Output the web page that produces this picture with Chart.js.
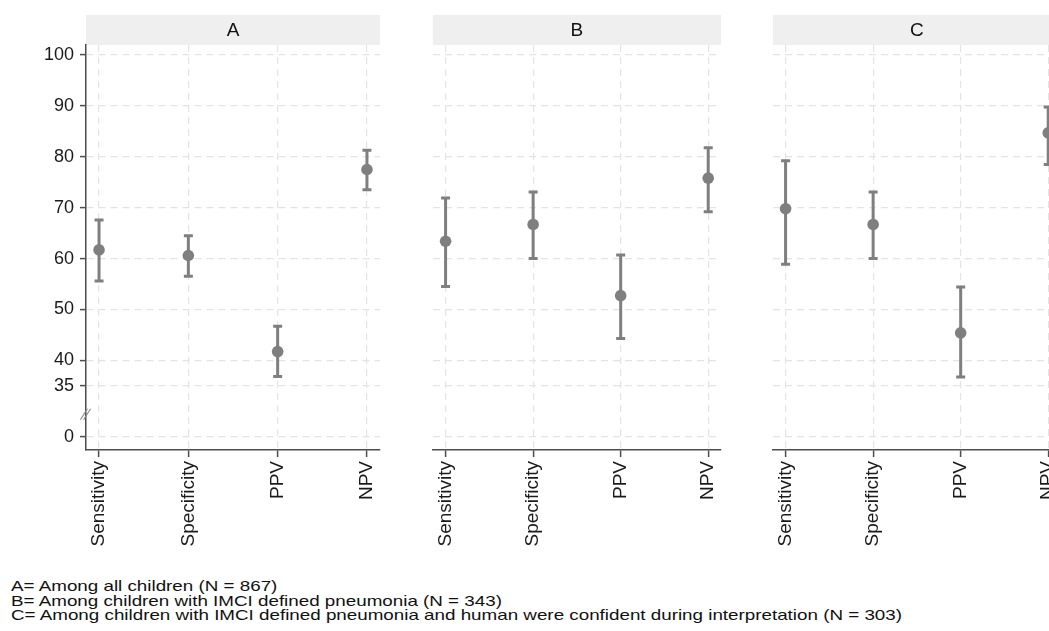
<!DOCTYPE html>
<html><head><meta charset="utf-8">
<script src="https://cdn.jsdelivr.net/npm/chart.js@4.4.1/dist/chart.umd.min.js"></script>
<style>
html,body{margin:0;padding:0;width:1049px;height:631px;overflow:hidden;background:#fff;}
.panel{position:absolute;top:0;}
#notes{position:absolute;left:11px;top:579px;font-family:"Liberation Sans",Arial,sans-serif;font-size:14.5px;line-height:14.7px;color:#111;white-space:nowrap;transform-origin:0 0;}
#notes div{display:block;}
</style></head><body>
<div class="panel" style="left:0px"><canvas id="cA" width="400" height="570"></canvas></div>
<div class="panel" style="left:427px"><canvas id="cB" width="314" height="570"></canvas></div>
<div class="panel" style="left:767px"><canvas id="cC" width="314" height="570"></canvas></div>
<div id="notes"></div>
<script>
// ---- data ----
const categories = ['Sensitivity', 'Specificity', 'PPV', 'NPV'];
const panelNames = ['A', 'B', 'C'];
const estA  = [61.7, 60.6, 41.7, 77.5];
const lowA  = [55.6, 56.5, 36.8, 73.5];
const highA = [67.6, 64.5, 46.7, 81.3];
const estB  = [63.4, 66.7, 52.7, 75.8];
const lowB  = [54.5, 60.0, 44.3, 69.2];
const highB = [71.9, 73.1, 60.7, 81.8];
const estC  = [69.8, 66.7, 45.4, 84.7];
const lowC  = [58.9, 60.0, 36.7, 78.5];
const highC = [79.2, 73.1, 54.4, 89.8];
const yTickValues = [0, 35, 40, 50, 60, 70, 80, 90, 100];
const yTickLabels = ['0', '35', '40', '50', '60', '70', '80', '90', '100'];
const footnotes = [
  'A= Among all children (N = 867)',
  'B= Among children with IMCI defined pneumonia (N = 343)',
  'C= Among children with IMCI defined pneumonia and human were confident during interpretation (N = 303)'
];

// broken axis: values below 35 are compressed (0 sits 10 units below 35)
const BREAK = 35;
function toAxis(v) { return v >= BREAK ? v : 25 + v * (10 / BREAK); }

Chart.defaults.font.family = '"Liberation Sans", Arial, sans-serif';
Chart.defaults.color = '#1a1a1a';

const GRID = '#e4e4e4';
const AXIS = '#4d4d4d';
const MARK = '#7f7f7f';

const headerPlugin = {
  id: 'header',
  beforeDraw(chart, args, opts) {
    const {ctx, chartArea: a} = chart;
    ctx.save();
    ctx.fillStyle = '#efefef';
    ctx.fillRect(a.left, 15, a.right - a.left, 30);
    ctx.fillStyle = '#111';
    ctx.font = '19px "Liberation Sans", Arial, sans-serif';
    ctx.textAlign = 'center';
    ctx.textBaseline = 'middle';
    ctx.fillText(opts.title, (a.left + a.right) / 2, 31);
    ctx.restore();
  }
};

const errorBarPlugin = {
  id: 'errbars',
  beforeDatasetsDraw(chart, args, opts) {
    const {ctx, scales: {x, y}} = chart;
    ctx.save();
    ctx.strokeStyle = MARK;
    ctx.lineWidth = 3;
    opts.low.forEach((lo, i) => {
      const px = x.getPixelForValue(i + 1);
      const yl = y.getPixelForValue(toAxis(lo));
      const yh = y.getPixelForValue(toAxis(opts.high[i]));
      ctx.beginPath();
      ctx.moveTo(px, yl); ctx.lineTo(px, yh);
      ctx.moveTo(px - 4.5, yl); ctx.lineTo(px + 4.5, yl);
      ctx.moveTo(px - 4.5, yh); ctx.lineTo(px + 4.5, yh);
      ctx.stroke();
    });
    ctx.restore();
  }
};

const breakPlugin = {
  id: 'axisbreak',
  afterDraw(chart, args, opts) {
    if (!opts.show) return;
    const {ctx, chartArea: a, scales: {y}} = chart;
    const cy = y.getPixelForValue(29.4);
    const cx = a.left - 0.5;
    ctx.save();
    ctx.strokeStyle = '#888';
    ctx.lineWidth = 1.1;
    [-1.6, 1.6].forEach(dx => {
      ctx.beginPath();
      ctx.moveTo(cx + dx - 3.5, cy + 5.5);
      ctx.lineTo(cx + dx + 3.5, cy - 5.5);
      ctx.stroke();
    });
    ctx.restore();
  }
};

function makePanel(id, name, est, low, high, showY) {
  const yAxisWidth = showY ? 86 : 0;
  new Chart(document.getElementById(id), {
    type: 'scatter',
    data: {
      datasets: [{
        data: est.map((v, i) => ({x: i + 1, y: toAxis(v)})),
        pointRadius: 5.8,
        pointHoverRadius: 5.8,
        pointBackgroundColor: MARK,
        pointBorderWidth: 0,
        showLine: false
      }]
    },
    options: {
      responsive: false,
      animation: false,
      events: [],
      layout: {padding: {top: 45, left: 0, right: 20, bottom: 0}},
      plugins: {
        legend: {display: false},
        tooltip: {enabled: false},
        header: {title: name},
        errbars: {low, high},
        axisbreak: {show: showY}
      },
      scales: {
        x: {
          type: 'linear',
          min: 0.854, max: 4.146,
          afterBuildTicks: s => { s.ticks = categories.map((c, i) => ({value: i + 1})); },
          afterFit: s => { s.height = 120; s.paddingLeft = 0; s.paddingRight = 0; },
          ticks: {
            autoSkip: false,
            minRotation: 90, maxRotation: 90,
            padding: 4,
            font: {size: 19},
            color: '#1a1a1a',
            callback: (v, i) => categories[i]
          },
          grid: {
            color: GRID, lineWidth: 1.2,
            drawTicks: true, tickLength: 7,
            tickColor: AXIS, tickWidth: 1.5, tickBorderDash: []
          },
          border: {display: true, color: AXIS, width: 1.5, dash: [7, 5]}
        },
        y: {
          type: 'linear',
          min: 22.36, max: 101.98,
          afterBuildTicks: s => { s.ticks = yTickValues.map(v => ({value: toAxis(v)})); },
          afterFit: s => { s.width = yAxisWidth; },
          ticks: {
            display: showY,
            autoSkip: false,
            padding: 6,
            font: {size: 18},
            color: '#1a1a1a',
            callback: (v, i) => yTickLabels[i]
          },
          grid: {
            color: GRID, lineWidth: 1.2,
            drawTicks: showY, tickLength: 6,
            tickColor: AXIS, tickWidth: 1.5, tickBorderDash: []
          },
          border: {display: showY, color: AXIS, width: 1.5, dash: [7, 5]}
        }
      }
    },
    plugins: [headerPlugin, errorBarPlugin, breakPlugin]
  });
}

makePanel('cA', panelNames[0], estA, lowA, highA, true);
makePanel('cB', panelNames[1], estB, lowB, highB, false);
makePanel('cC', panelNames[2], estC, lowC, highC, false);

// footnotes
const notes = document.getElementById('notes');
footnotes.forEach(t => { const d = document.createElement('div'); d.textContent = t; notes.appendChild(d); });
const w = notes.getBoundingClientRect().width;
notes.style.transform = 'scaleX(' + (891 / w) + ')';
</script>
</body></html>
